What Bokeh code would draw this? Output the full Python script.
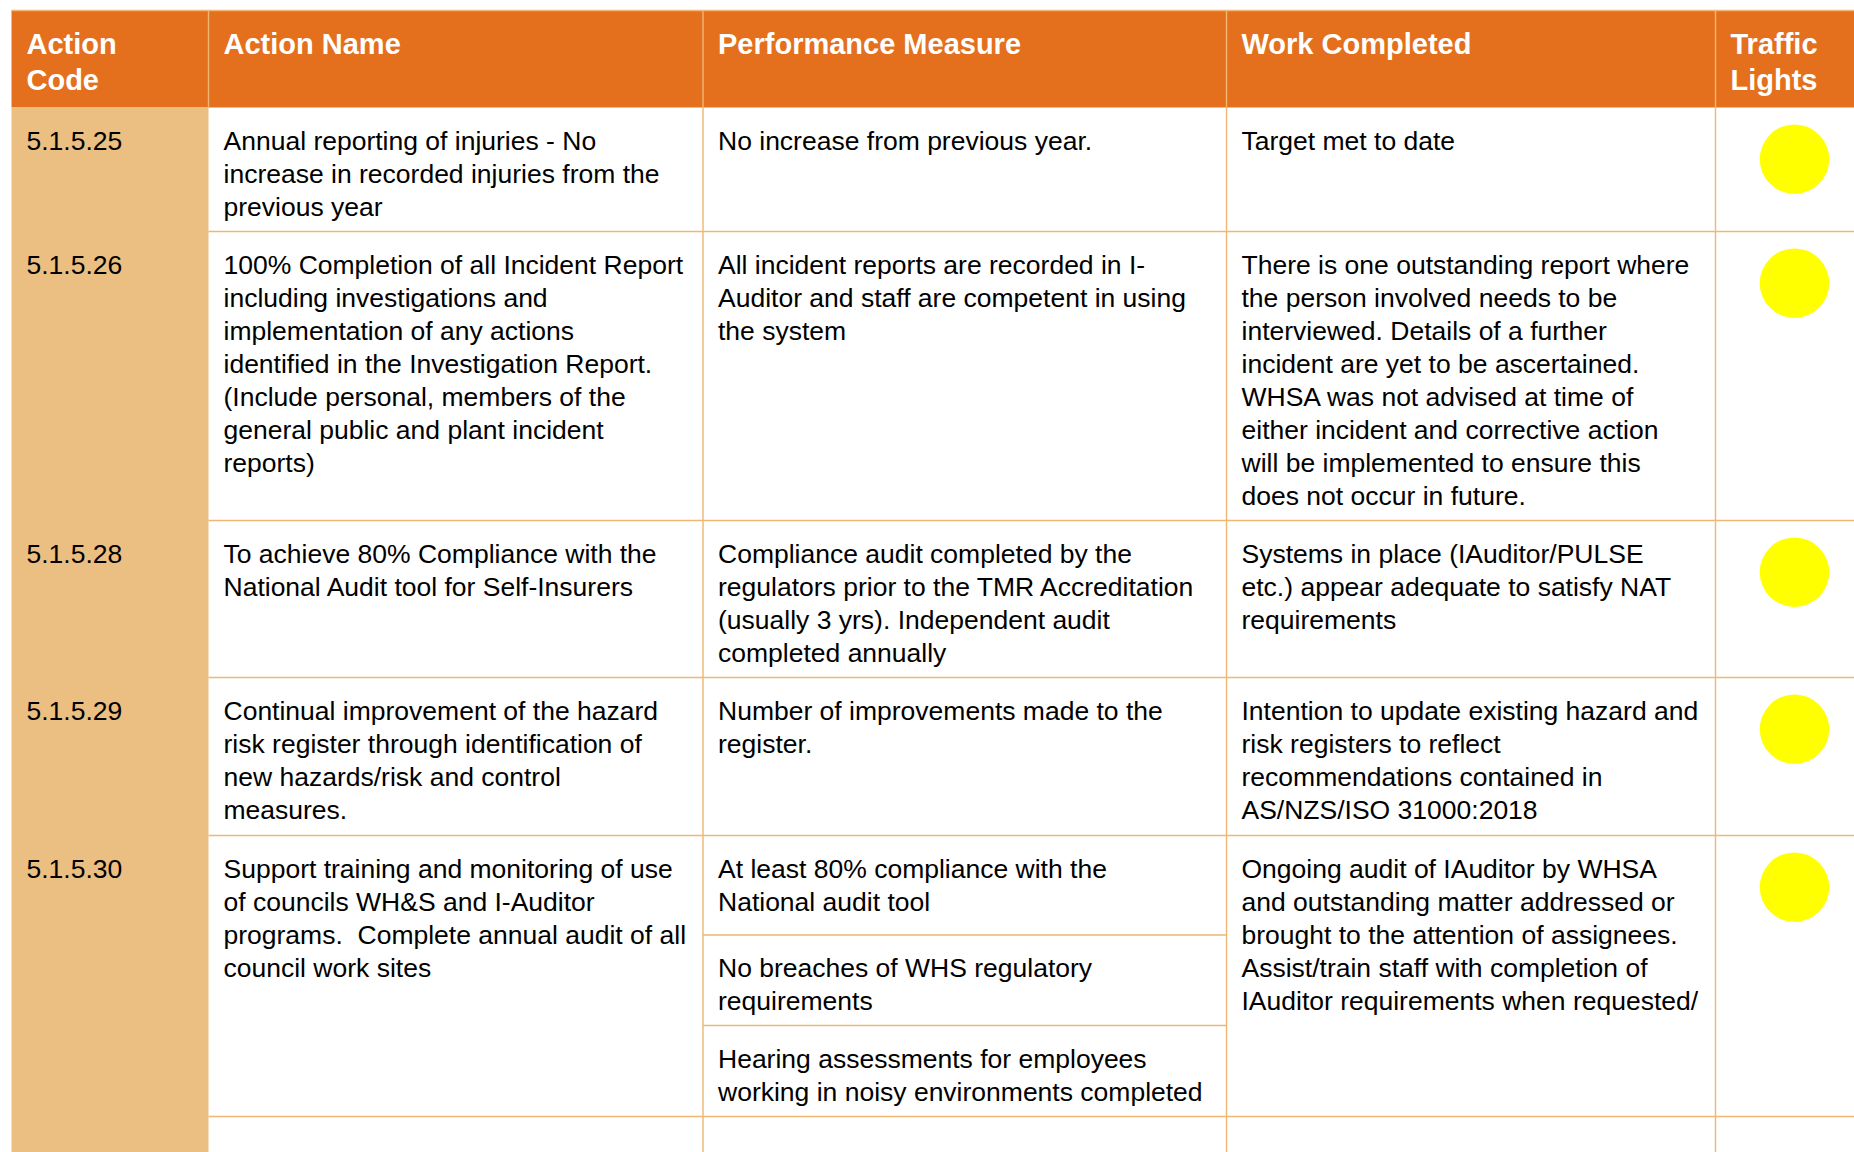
from bokeh.plotting import figure
from bokeh.models import Range1d, ColumnDataSource
from bokeh.core.properties import value
from bokeh.embed import file_html
from bokeh.resources import INLINE

# ---------------- data ----------------
headers = [["Action", "Code"], ["Action Name"], ["Performance Measure"], ["Work Completed"], ["Traffic", "Lights"]]

codes = ["5.1.5.25", "5.1.5.26", "5.1.5.28", "5.1.5.29", "5.1.5.30"]

action_names = [
    ["Annual reporting of injuries - No", "increase in recorded injuries from the", "previous year"],
    ["100% Completion of all Incident Report", "including investigations and", "implementation of any actions",
     "identified in the Investigation Report.", "(Include personal, members of the",
     "general public and plant incident", "reports)"],
    ["To achieve 80% Compliance with the", "National Audit tool for Self-Insurers"],
    ["Continual improvement of the hazard", "risk register through identification of",
     "new hazards/risk and control", "measures."],
    ["Support training and monitoring of use", "of councils WH&S and I-Auditor",
     "programs.\u00a0 Complete annual audit of all", "council work sites"],
]

performance_measures = [
    [["No increase from previous year."]],
    [["All incident reports are recorded in I-", "Auditor and staff are competent in using", "the system"]],
    [["Compliance audit completed by the", "regulators prior to the TMR Accreditation",
      "(usually 3 yrs). Independent audit", "completed annually"]],
    [["Number of improvements made to the", "register."]],
    [["At least 80% compliance with the", "National audit tool"],
     ["No breaches of WHS regulatory", "requirements"],
     ["Hearing assessments for employees", "working in noisy environments completed"]],
]

work_completed = [
    ["Target met to date"],
    ["There is one outstanding report where", "the person involved needs to be",
     "interviewed. Details of a further", "incident are yet to be ascertained.",
     "WHSA was not advised at time of", "either incident and corrective action",
     "will be implemented to ensure this", "does not occur in future."],
    ["Systems in place (IAuditor/PULSE", "etc.) appear adequate to satisfy NAT", "requirements"],
    ["Intention to update existing hazard and", "risk registers to reflect",
     "recommendations contained in", "AS/NZS/ISO 31000:2018"],
    ["Ongoing audit of IAuditor by WHSA", "and outstanding matter addressed or",
     "brought to the attention of assignees.", "Assist/train staff with completion of",
     "IAuditor requirements when requested/"],
]

traffic_lights = ["yellow", "yellow", "yellow", "yellow", "yellow"]

# ---------------- layout (page pixels) ----------------
W, H = 1854, 1152
COL_EDGES = [11, 208, 702.5, 1226, 1715, 1900]
HEAD_TOP, HEAD_BOTTOM = 10, 107
ROW_TOPS = [107, 231, 520, 677, 835]
ROW_BOTTOMS = [231, 520, 677, 835, 1116]
SUB_TOPS = {4: [835, 934.5, 1025]}
PAGE_BOTTOM = 1170
PAD_X = 15
BASE_OFF = 33
LINE_H = 33
HEAD_BASE_OFF = 33.5
HEAD_LINE_H = 36
LIGHT_R_OFF = 51.7
LIGHT_X = 1794

ORANGE = "#E4701E"
GOLD = "#EBBE82"
LINE = "#F0B672"
LIGHT_COLORS = {"yellow": "#FFFF00", "red": "#FF0000", "green": "#00B050"}

p = figure(width=W, height=H, x_range=Range1d(0, W), y_range=Range1d(H, 0),
           output_backend="svg", toolbar_location=None, min_border=0,
           x_axis_location=None, y_axis_location=None, tools="")
p.grid.visible = False
p.outline_line_color = None
p.background_fill_color = "white"
p.border_fill_color = "white"

# backgrounds
p.quad(left=[COL_EDGES[0]], right=[COL_EDGES[-1]], top=[HEAD_TOP], bottom=[HEAD_BOTTOM],
       fill_color=ORANGE, line_color=None)
p.quad(left=[COL_EDGES[0]], right=[COL_EDGES[1]], top=[HEAD_BOTTOM], bottom=[PAGE_BOTTOM],
       fill_color=GOLD, line_color=None)

# grid lines
x0, y0, x1, y1 = [], [], [], []
x0.append(COL_EDGES[0]); x1.append(COL_EDGES[-1]); y0.append(HEAD_TOP); y1.append(HEAD_TOP)
x0.append(COL_EDGES[1]); x1.append(COL_EDGES[1]); y0.append(HEAD_TOP); y1.append(HEAD_BOTTOM)
for cx in COL_EDGES[2:5]:
    x0.append(cx); x1.append(cx); y0.append(HEAD_TOP); y1.append(PAGE_BOTTOM)
for yb in ROW_BOTTOMS:
    x0.append(COL_EDGES[1]); x1.append(COL_EDGES[-1]); y0.append(yb); y1.append(yb)
for ri, subs in SUB_TOPS.items():
    for yt in subs[1:]:
        x0.append(COL_EDGES[2]); x1.append(COL_EDGES[3]); y0.append(yt); y1.append(yt)
p.segment(x0=x0, y0=y0, x1=x1, y1=y1, line_color=LINE, line_width=1.4)

# header text
hx, hy, ht = [], [], []
for ci, lines in enumerate(headers):
    for li, t in enumerate(lines):
        hx.append(COL_EDGES[ci] + PAD_X)
        hy.append(HEAD_TOP + HEAD_BASE_OFF + li * HEAD_LINE_H)
        ht.append(t)
p.text(x=hx, y=hy, text=ht, text_font=value("Liberation Sans"), text_font_size="29px",
       text_font_style="bold", text_color="white", text_baseline="alphabetic", text_align="left")

# body text
bx, by, bt = [], [], []
def add_cell(col, top, lines):
    for li, t in enumerate(lines):
        bx.append(COL_EDGES[col] + PAD_X)
        by.append(top + BASE_OFF + li * LINE_H)
        bt.append(t)

for ri in range(len(codes)):
    top = ROW_TOPS[ri]
    add_cell(0, top, [codes[ri]])
    add_cell(1, top, action_names[ri])
    subs = SUB_TOPS.get(ri, [top])
    for si, lines in enumerate(performance_measures[ri]):
        add_cell(2, subs[si], lines)
    add_cell(3, top, work_completed[ri])

src = ColumnDataSource(dict(x=bx, y=by, text=bt))
p.text(x="x", y="y", text="text", source=src, text_font=value("Liberation Sans"),
       text_font_size="26.5px", text_color="black", text_baseline="alphabetic", text_align="left")

# traffic lights
p.scatter(x=[LIGHT_X] * len(traffic_lights), y=[t + LIGHT_R_OFF for t in ROW_TOPS],
          marker="circle", size=69.5, fill_color=[LIGHT_COLORS[s] for s in traffic_lights],
          line_color=None)

open("out.html", "w").write(file_html(p, INLINE))
